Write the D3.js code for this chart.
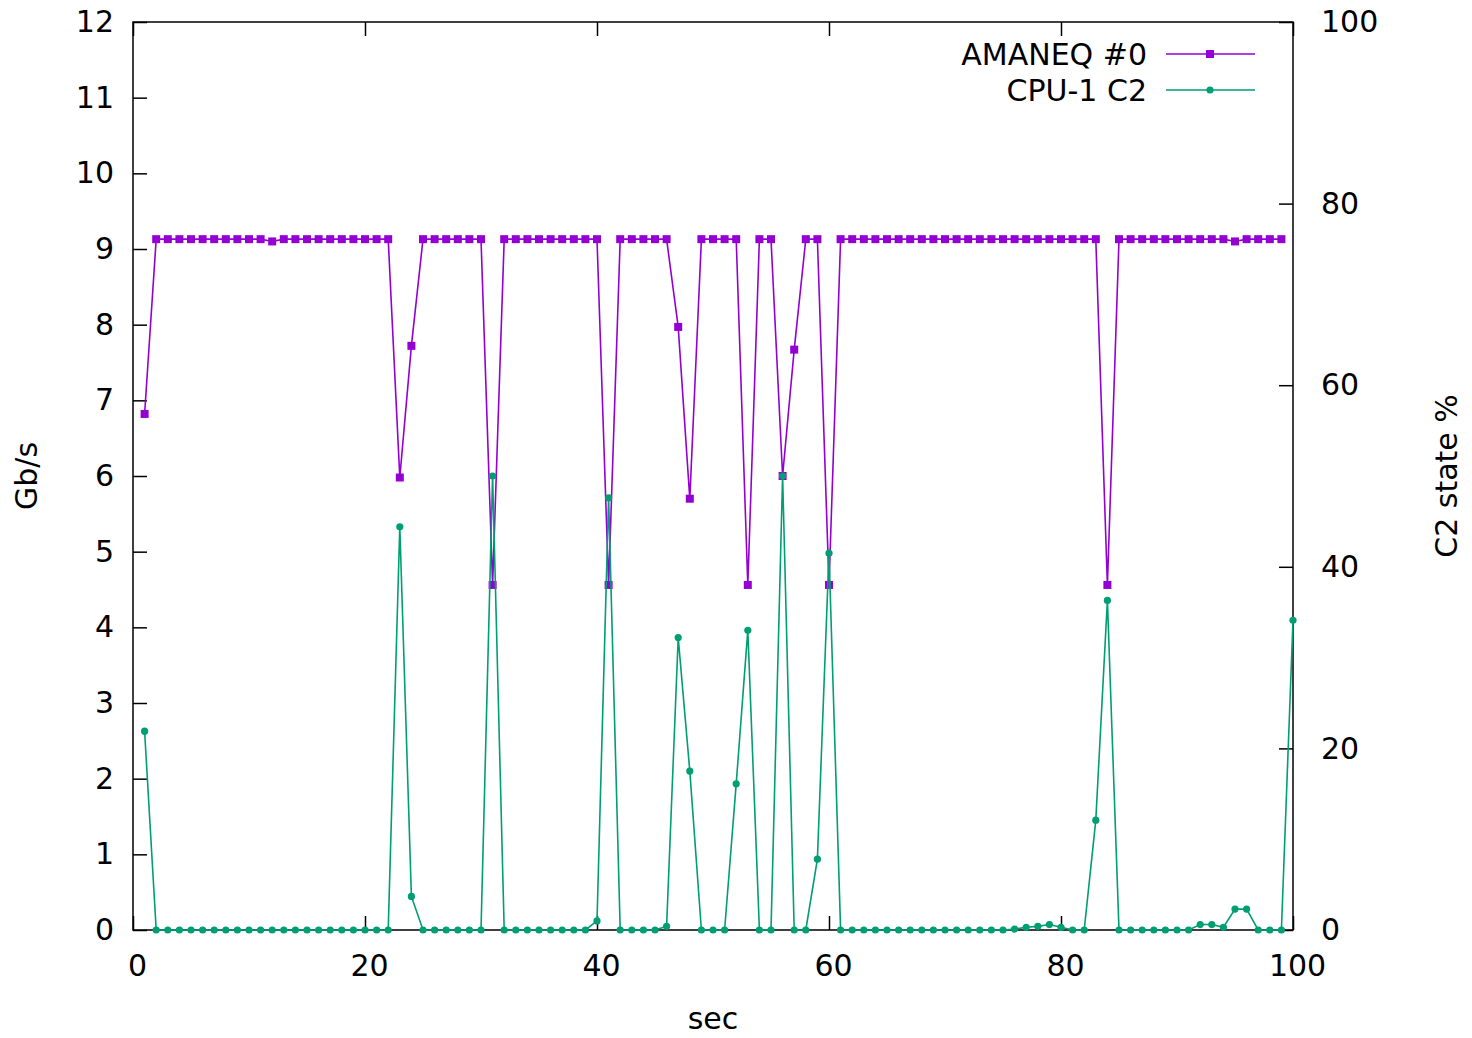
<!DOCTYPE html>
<html>
<head>
<meta charset="utf-8">
<script src="https://cdn.jsdelivr.net/npm/d3@7"></script>
<style>
  body { margin: 0; background: #fff; }
  svg { display: block; font-family: "DejaVu Sans", sans-serif; }
</style>
</head>
<body>
<svg id="chart"></svg>
<script>
// seconds on the x axis
const seconds = [
  1, 2, 3, 4, 5, 6, 7, 8, 9, 10,
  11, 12, 13, 14, 15, 16, 17, 18, 19, 20,
  21, 22, 23, 24, 25, 26, 27, 28, 29, 30,
  31, 32, 33, 34, 35, 36, 37, 38, 39, 40,
  41, 42, 43, 44, 45, 46, 47, 48, 49, 50,
  51, 52, 53, 54, 55, 56, 57, 58, 59, 60,
  61, 62, 63, 64, 65, 66, 67, 68, 69, 70,
  71, 72, 73, 74, 75, 76, 77, 78, 79, 80,
  81, 82, 83, 84, 85, 86, 87, 88, 89, 90,
  91, 92, 93, 94, 95, 96, 97, 98, 99, 100
];

// AMANEQ #0 throughput, Gb/s (left axis), sec 1..99
const amaneqGbps = [
  6.82, 9.13, 9.13, 9.13, 9.13, 9.13, 9.13, 9.13, 9.13, 9.13,
  9.13, 9.10, 9.13, 9.13, 9.13, 9.13, 9.13, 9.13, 9.13, 9.13,
  9.13, 9.13, 5.98, 7.72, 9.13, 9.13, 9.13, 9.13, 9.13, 9.13,
  4.56, 9.13, 9.13, 9.13, 9.13, 9.13, 9.13, 9.13, 9.13, 9.13,
  4.56, 9.13, 9.13, 9.13, 9.13, 9.13, 7.97, 5.70, 9.13, 9.13,
  9.13, 9.13, 4.56, 9.13, 9.13, 6.00, 7.67, 9.13, 9.13, 4.56,
  9.13, 9.13, 9.13, 9.13, 9.13, 9.13, 9.13, 9.13, 9.13, 9.13,
  9.13, 9.13, 9.13, 9.13, 9.13, 9.13, 9.13, 9.13, 9.13, 9.13,
  9.13, 9.13, 9.13, 4.56, 9.13, 9.13, 9.13, 9.13, 9.13, 9.13,
  9.13, 9.13, 9.13, 9.13, 9.10, 9.13, 9.13, 9.13, 9.13
];

// CPU-1 C2 state residency, % (right axis), sec 1..100
const cpuC2Pct = [
  21.9, 0, 0, 0, 0, 0, 0, 0, 0, 0,
  0, 0, 0, 0, 0, 0, 0, 0, 0, 0,
  0, 0, 44.4, 3.7, 0, 0, 0, 0, 0, 0,
  50.0, 0, 0, 0, 0, 0, 0, 0, 0, 1.0,
  47.6, 0, 0, 0, 0, 0.4, 32.2, 17.5, 0, 0,
  0, 16.1, 33.0, 0, 0, 50.0, 0, 0, 7.8, 41.5,
  0, 0, 0, 0, 0, 0, 0, 0, 0, 0,
  0, 0, 0, 0, 0, 0.1, 0.3, 0.4, 0.6, 0.3,
  0, 0, 12.1, 36.3, 0, 0, 0, 0, 0, 0,
  0, 0.6, 0.6, 0.3, 2.3, 2.3, 0, 0, 0, 34.1
];

const xTicks = [0, 20, 40, 60, 80, 100];
const leftTicks = [0, 1, 2, 3, 4, 5, 6, 7, 8, 9, 10, 11, 12];
const rightTicks = [0, 20, 40, 60, 80, 100];

const width = 1472, height = 1038;
const margin = { top: 22, right: 179, bottom: 108, left: 133 };
const fontSize = 30;
const purple = "#9400d3", green = "#009e73";

const svg = d3.select("#chart").attr("width", width).attr("height", height);

const x = d3.scaleLinear().domain([0, 100]).range([margin.left, width - margin.right]);
const yL = d3.scaleLinear().domain([0, 12]).range([height - margin.bottom, margin.top]);
const yR = d3.scaleLinear().domain([0, 100]).range([height - margin.bottom, margin.top]);

// axes, ticks pointing inward like gnuplot
function styleAxis(g) {
  g.select(".domain").remove();
  g.selectAll(".tick line").attr("stroke", "#000").attr("stroke-width", 1.5);
  g.selectAll(".tick text").attr("fill", "#000").style("font-size", fontSize + "px")
    .style("font-family", "DejaVu Sans");
}

svg.append("g")
  .attr("transform", `translate(0,${height - margin.bottom})`)
  .call(d3.axisBottom(x).tickValues(xTicks).tickSize(-14).tickPadding(25))
  .call(styleAxis)
  .call(g => g.selectAll(".tick text").attr("x", 4));

svg.append("g")
  .attr("transform", `translate(0,${margin.top})`)
  .call(d3.axisTop(x).tickValues(xTicks).tickSize(-14).tickFormat(""))
  .call(styleAxis);

svg.append("g")
  .attr("transform", `translate(${margin.left},0)`)
  .call(d3.axisLeft(yL).tickValues(leftTicks).tickSize(-14).tickPadding(19))
  .call(styleAxis);

svg.append("g")
  .attr("transform", `translate(${width - margin.right},0)`)
  .call(d3.axisRight(yR).tickValues(rightTicks).tickSize(-14).tickPadding(28))
  .call(styleAxis);

// frame
svg.append("rect")
  .attr("x", margin.left).attr("y", margin.top)
  .attr("width", width - margin.left - margin.right)
  .attr("height", height - margin.top - margin.bottom)
  .attr("fill", "none").attr("stroke", "#000").attr("stroke-width", 1.5);

// axis titles
svg.append("text")
  .attr("transform", `translate(37,${yL(6)}) rotate(-90)`)
  .attr("text-anchor", "middle").style("font-size", fontSize + "px")
  .text("Gb/s");

svg.append("text")
  .attr("transform", `translate(1457,${yL(6)}) rotate(-90)`)
  .attr("text-anchor", "middle").style("font-size", fontSize + "px")
  .text("C2 state %");

svg.append("text")
  .attr("x", x(50)).attr("y", 1029)
  .attr("text-anchor", "middle").style("font-size", fontSize + "px")
  .text("sec");

// series
const amaneq = amaneqGbps.map((v, i) => ({ s: seconds[i], v: v }));
const cpu = cpuC2Pct.map((v, i) => ({ s: seconds[i], v: v }));

svg.append("path")
  .datum(amaneq)
  .attr("fill", "none").attr("stroke", purple).attr("stroke-width", 1.6)
  .attr("d", d3.line().x(d => x(d.s)).y(d => yL(d.v)));

svg.selectAll(".sq")
  .data(amaneq)
  .enter()
    .append("rect")
    .attr("class", "sq")
    .attr("x", d => x(d.s) - 4)
    .attr("y", d => yL(d.v) - 4)
    .attr("width", 8).attr("height", 8)
    .attr("fill", purple);

svg.append("path")
  .datum(cpu)
  .attr("fill", "none").attr("stroke", green).attr("stroke-width", 1.6)
  .attr("d", d3.line().x(d => x(d.s)).y(d => yR(d.v)));

svg.selectAll(".dot")
  .data(cpu)
  .enter()
    .append("circle")
    .attr("class", "dot")
    .attr("cx", d => x(d.s))
    .attr("cy", d => yR(d.v))
    .attr("r", 3.6)
    .attr("fill", green);

// legend
const legend = [
  { name: "AMANEQ #0", color: purple, y: 54, mark: "square" },
  { name: "CPU-1 C2", color: green, y: 90, mark: "circle" }
];
legend.forEach(item => {
  svg.append("text")
    .attr("x", 1147).attr("y", item.y).attr("dy", "0.35em")
    .attr("text-anchor", "end").style("font-size", fontSize + "px")
    .text(item.name);
  svg.append("line")
    .attr("x1", 1166).attr("x2", 1255).attr("y1", item.y).attr("y2", item.y)
    .attr("stroke", item.color).attr("stroke-width", 1.6);
  if (item.mark === "square") {
    svg.append("rect").attr("x", 1210 - 4).attr("y", item.y - 4)
      .attr("width", 8).attr("height", 8).attr("fill", item.color);
  } else {
    svg.append("circle").attr("cx", 1210).attr("cy", item.y).attr("r", 3.6)
      .attr("fill", item.color);
  }
});
</script>
</body>
</html>
